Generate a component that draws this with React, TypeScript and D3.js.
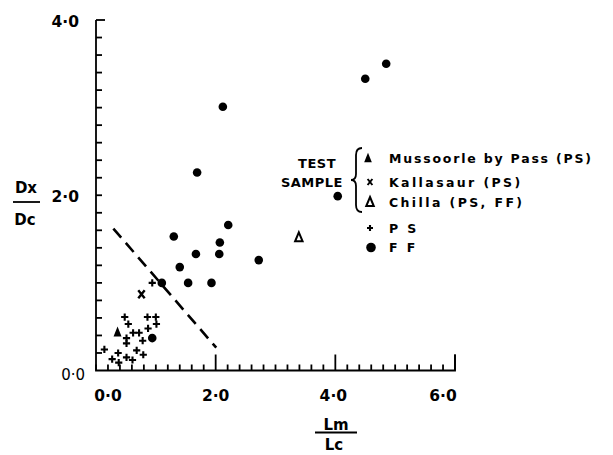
import React from "react";
import * as d3 from "d3";

// FF samples (Lm/Lc, Dx/Dc)
const ffX = [4.85, 4.5, 2.12, 1.69, 4.04, 2.21, 1.3, 2.07, 1.67, 2.06, 2.72, 1.4, 1.1, 1.54, 1.93, 0.94];
const ffY = [3.5, 3.33, 3.01, 2.26, 1.99, 1.66, 1.53, 1.46, 1.33, 1.33, 1.26, 1.18, 1.0, 1.0, 1.0, 0.37];

// PS samples
const psX = [0.94, 0.48, 0.54, 0.86, 1.0, 1.01, 0.87, 0.62, 0.72, 0.51, 0.51, 0.78, 0.14, 0.37, 0.68, 0.79, 0.27, 0.38, 0.51, 0.61];
const psY = [1.0, 0.61, 0.53, 0.61, 0.61, 0.53, 0.48, 0.43, 0.43, 0.37, 0.31, 0.34, 0.24, 0.2, 0.23, 0.18, 0.13, 0.09, 0.15, 0.12];

// test samples
const mussoorie = [0.36, 0.44];
const kallasaur = [0.76, 0.87];
const chilla = [3.39, 1.52];

// dashed discriminant line
const boundary = [[0.29, 1.62], [2.01, 0.26]];

const xTickLabels = [0, 2, 4, 6];
const yTickLabels = [2, 4];

const legendItems = ["Mussoorle by Pass (PS)", "Kallasaur (PS)", "Chilla (PS, FF)"];

const W = 613;
const H = 455;
const FONT = "'DejaVu Sans', Verdana, sans-serif";

const x = d3.scaleLinear().domain([0, 6]).range([96, 455]);
const y = d3.scaleLinear().domain([0, 4]).range([370.5, 20]);

const Cross = ({ cx, cy, s = 3.6 }: { cx: number; cy: number; s?: number }) => (
  <path d={`M${cx - s},${cy}H${cx + s}M${cx},${cy - s}V${cy + s}`} stroke="#000" strokeWidth={2.1} />
);

const FilledTri = ({ cx, cy, s = 5 }: { cx: number; cy: number; s?: number }) => (
  <path d={`M${cx},${cy - s * 1.1}L${cx + s * 0.8},${cy + s * 0.9}L${cx - s * 0.8},${cy + s * 0.9}Z`} fill="#000" />
);

const OpenTri = ({ cx, cy, s = 5 }: { cx: number; cy: number; s?: number }) => (
  <path d={`M${cx},${cy - s}L${cx + s * 0.75},${cy + s * 0.8}L${cx - s * 0.75},${cy + s * 0.8}Z`} fill="none" stroke="#000" strokeWidth={2} />
);

const XMark = ({ cx, cy, s = 4, w = 2.4 }: { cx: number; cy: number; s?: number; w?: number }) => (
  <path d={`M${cx - s * 0.8},${cy - s}L${cx + s * 0.8},${cy + s}M${cx + s * 0.8},${cy - s}L${cx - s * 0.8},${cy + s}`} stroke="#000" strokeWidth={w} />
);

export default function App() {
  const xMinor = d3.range(0, 6.001, 0.2);
  const yMinor = d3.range(0.2, 3.999, 0.2);
  const ff = ffX.map((v, i) => [v, ffY[i]]);
  const ps = psX.map((v, i) => [v, psY[i]]);
  const line = d3.line().x((d: any) => x(d[0])).y((d: any) => y(d[1]));

  const legX = 370;
  const legY = [158, 182, 202];

  return (
    <svg width={W} height={H} style={{ position: "absolute", left: 0, top: 0, background: "#fff" }} fontFamily={FONT}>
      {/* axes */}
      <g stroke="#000" strokeWidth={1.8} fill="none">
        <path d={`M${x(0)},${y(4)}V${y(0)}H${x(6)}V${y(0) - 16}`} />
        <path d={`M${x(0)},${y(4)}H${x(0) + 9}`} />
        {xMinor.map((t, i) => {
          const major = Math.abs(t - Math.round(t / 2) * 2) < 1e-6 && t > 0.1;
          return <line key={"xt" + i} x1={x(t)} x2={x(t)} y1={y(0)} y2={y(0) - (major ? 16 : 6)} />;
        })}
        {yMinor.map((t, i) => (
          <line key={"yt" + i} x1={x(0)} x2={x(0) + 6} y1={y(t)} y2={y(t)} />
        ))}
      </g>

      {/* tick labels */}
      <g fontWeight="bold" fontSize={15.5} textAnchor="middle">
        {xTickLabels.map((t) => (
          <text key={"xl" + t} x={x(t) + (t === 0 ? 12 : t === 6 ? -12 : t === 4 ? -2 : 0)} y={401}>
            {t.toFixed(1).replace(".", "·")}
          </text>
        ))}
      </g>
      <g fontWeight="bold" fontSize={15.5} textAnchor="end">
        {yTickLabels.map((t) => (
          <text key={"yl" + t} x={79} y={y(t) + 7}>
            {t.toFixed(1).replace(".", "·")}
          </text>
        ))}
      </g>
      <text x={85} y={y(0) + 9} fontSize={15} textAnchor="end">0·0</text>

      {/* axis titles */}
      <g fontWeight="bold" fontSize={15} textAnchor="middle">
        <text x={26} y={193}>Dx</text>
        <line x1={13} x2={40} y1={202} y2={202} stroke="#000" strokeWidth={1.8} />
        <text x={25} y={225}>Dc</text>
        <text x={336} y={430}>Lm</text>
        <line x1={315} x2={357} y1={432.5} y2={432.5} stroke="#000" strokeWidth={1.8} />
        <text x={334} y={450}>Lc</text>
      </g>

      {/* boundary */}
      <path d={line(boundary as any) || ""} stroke="#000" strokeWidth={2.6} strokeDasharray="12 7" fill="none" />

      {/* data */}
      {ff.map((d, i) => (
        <circle key={"ff" + i} cx={x(d[0])} cy={y(d[1])} r={4.3} fill="#000" />
      ))}
      {ps.map((d, i) => (
        <Cross key={"ps" + i} cx={x(d[0])} cy={y(d[1])} />
      ))}
      <FilledTri cx={x(mussoorie[0])} cy={y(mussoorie[1])} />
      <XMark cx={x(kallasaur[0])} cy={y(kallasaur[1])} />
      <OpenTri cx={x(chilla[0])} cy={y(chilla[1])} />

      {/* legend */}
      <g fontWeight="bold" fontSize={13} textAnchor="end" letterSpacing={0.5}>
        <text x={336} y={168}>TEST</text>
        <text x={343} y={187}>SAMPLE</text>
      </g>
      <path d="M362,148 Q356,148 356,155 V174 Q356,180 351,180 Q356,180 356,186 V205 Q356,212 362,212" fill="none" stroke="#000" strokeWidth={1.8} />
      <FilledTri cx={legX - 2} cy={legY[0]} s={4.8} />
      <XMark cx={legX} cy={legY[1]} s={3} w={2} />
      <OpenTri cx={legX} cy={legY[2]} s={5} />
      <Cross cx={legX} cy={228} s={3} />
      <circle cx={legX + 1} cy={247.5} r={4.8} fill="#000" />
      <g fontWeight="bold" fontSize={12.5} letterSpacing={2.4}>
        {legendItems.map((t, i) => (
          <text key={t} x={389} y={legY[i] + 5} letterSpacing={i === 0 ? 1.8 : 2.4}>{t}</text>
        ))}
        <text x={389} y={233}>P S</text>
        <text x={389} y={252}>F F</text>
      </g>
    </svg>
  );
}
